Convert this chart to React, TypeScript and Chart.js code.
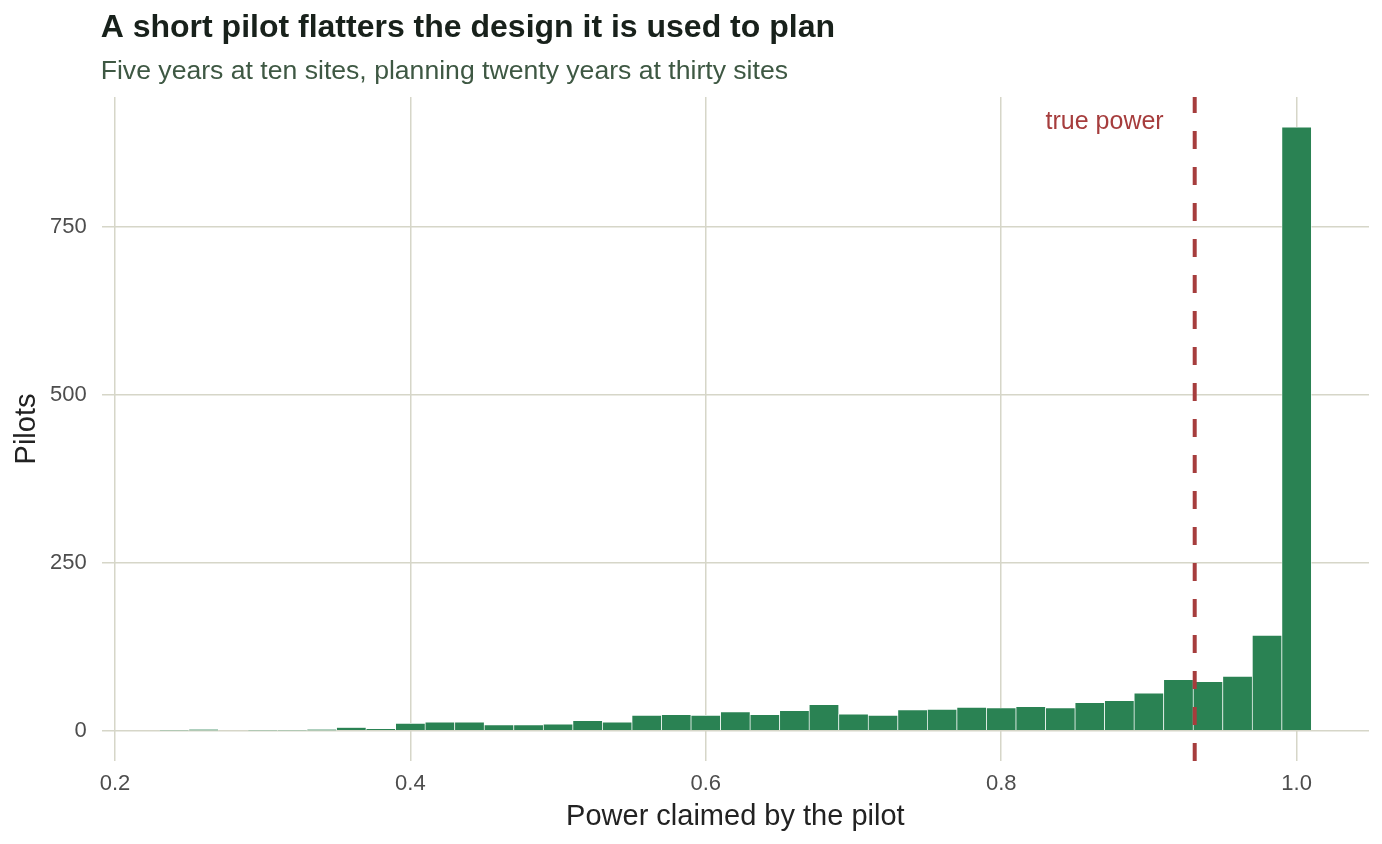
import React, { useEffect, useRef } from "react";
import { Chart, registerables } from "chart.js";

Chart.register(...registerables);

// Histogram bins (centre of each 0.02-wide bin) and pilot counts
const binCenters = [
  0.24, 0.26, 0.28, 0.3, 0.32, 0.34, 0.36, 0.38, 0.4, 0.42,
  0.44, 0.46, 0.48, 0.5, 0.52, 0.54, 0.56, 0.58, 0.6, 0.62,
  0.64, 0.66, 0.68, 0.7, 0.72, 0.74, 0.76, 0.78, 0.8, 0.82,
  0.84, 0.86, 0.88, 0.9, 0.92, 0.94, 0.96, 0.98, 1.0,
];
const pilotCounts = [
  1, 2, 0, 1, 1, 2, 5, 3, 11, 13,
  13, 9, 9, 10, 15, 13, 23, 24, 23, 28,
  24, 30, 39, 25, 23, 31, 32, 35, 34, 36,
  34, 42, 45, 56, 76, 73, 81, 142, 898,
];

const truePower = 0.931;
const xTickValues = [0.2, 0.4, 0.6, 0.8, 1.0];
const xTickLabels = ["0.2", "0.4", "0.6", "0.8", "1.0"];
const yTickValues = [0, 250, 500, 750];
const yTickLabels = ["0", "250", "500", "750"];
const xLimits = [0.191, 1.049];
const yLimits = [-44.9, 942.9];
const labelAnchor = { x: 0.91, y: 896 };

const TITLE = "A short pilot flatters the design it is used to plan";
const SUBTITLE = "Five years at ten sites, planning twenty years at thirty sites";
const X_TITLE = "Power claimed by the pilot";
const Y_TITLE = "Pilots";
const LABEL = "true power";

const FONT = "'Liberation Sans', Arial, Helvetica, sans-serif";
const GREEN = "#2A8253";
const RED = "#A63D3D";
const GRID = "#D6D6C8";

const textPlugin = {
  id: "textPlugin",
  afterDatasetsDraw(chart: any) {
    const ctx = chart.ctx;
    const xs = chart.scales.x;
    const ys = chart.scales.y;
    ctx.save();
    ctx.fillStyle = RED;
    ctx.font = `25px ${FONT}`;
    ctx.textAlign = "right";
    ctx.textBaseline = "alphabetic";
    ctx.fillText(LABEL, xs.getPixelForValue(labelAnchor.x), ys.getPixelForValue(labelAnchor.y));
    ctx.restore();
  },
  afterDraw(chart: any) {
    const ctx = chart.ctx;
    const { left, right, top, bottom } = chart.chartArea;
    ctx.save();
    ctx.textBaseline = "alphabetic";
    ctx.textAlign = "left";
    ctx.fillStyle = "#18211B";
    ctx.font = `bold 32px ${FONT}`;
    ctx.fillText(TITLE, left - 1, 37);
    ctx.fillStyle = "#3E5843";
    ctx.font = `26.6px ${FONT}`;
    ctx.fillText(SUBTITLE, left - 1, 79);

    ctx.fillStyle = "#222222";
    ctx.font = `29px ${FONT}`;
    ctx.textAlign = "center";
    ctx.fillText(X_TITLE, (left + right) / 2, 825);

    ctx.translate(35, (top + bottom) / 2);
    ctx.rotate(-Math.PI / 2);
    ctx.fillText(Y_TITLE, 0, 0);
    ctx.restore();
  },
};

export default function App() {
  const ref = useRef<HTMLCanvasElement | null>(null);

  useEffect(() => {
    if (!ref.current) return;
    const chart = new Chart(ref.current, {
      type: "bar",
      data: {
        datasets: [
          {
            type: "line",
            label: "true power",
            data: [
              { x: truePower, y: yLimits[0] },
              { x: truePower, y: yLimits[1] },
            ],
            borderColor: RED,
            borderWidth: 4,
            borderDash: [18, 18],
            pointRadius: 0,
            fill: false,
            order: 0,
          } as any,
          {
            type: "bar",
            label: "Pilots",
            data: binCenters.map((c, i) => ({ x: c, y: pilotCounts[i] })),
            backgroundColor: GREEN,
            borderColor: "#FFFFFF",
            borderWidth: 0.7,
            barPercentage: 1,
            categoryPercentage: 1,
            order: 1,
          } as any,
        ],
      },
      options: {
        responsive: false,
        animation: false,
        layout: { padding: { left: 0, top: 97, right: 13, bottom: 0 } },
        plugins: {
          legend: { display: false },
          tooltip: { enabled: false },
          title: { display: false },
        },
        scales: {
          x: {
            type: "linear",
            min: xLimits[0],
            max: xLimits[1],
            offset: false,
            border: { display: false },
            grid: { color: GRID, lineWidth: 1.5, drawTicks: false, offset: false },
            afterBuildTicks: (scale: any) => {
              scale.ticks = xTickValues.map((v) => ({ value: v }));
            },
            ticks: {
              padding: 10,
              color: "#4D4D4D",
              font: { family: FONT, size: 22 },
              maxRotation: 0,
              autoSkip: false,
              callback: (v: any, i: number) => xTickLabels[i],
            },
            afterFit: (scale: any) => {
              scale.height = 83;
            },
          },
          y: {
            type: "linear",
            min: yLimits[0],
            max: yLimits[1],
            border: { display: false },
            grid: { color: GRID, lineWidth: 1.5, drawTicks: false },
            afterBuildTicks: (scale: any) => {
              scale.ticks = yTickValues.map((v) => ({ value: v }));
            },
            ticks: {
              padding: 15,
              color: "#4D4D4D",
              font: { family: FONT, size: 22 },
              autoSkip: false,
              callback: (v: any, i: number) => yTickLabels[i],
            },
            afterFit: (scale: any) => {
              scale.width = 101.7;
            },
          },
        },
      } as any,
      plugins: [textPlugin],
    });
    return () => chart.destroy();
  }, []);

  return (
    <div style={{ position: "fixed", left: 0, top: 0, width: 1382, height: 844, background: "#fff" }}>
      <canvas ref={ref} width={1382} height={844} style={{ width: 1382, height: 844 }} />
    </div>
  );
}
